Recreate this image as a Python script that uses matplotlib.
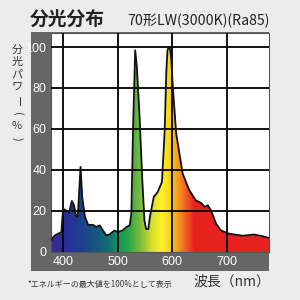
import matplotlib.pyplot as plt
import numpy as np
from matplotlib.colors import LinearSegmentedColormap
from matplotlib.patches import Rectangle

plt.rcParams['font.family'] = ['Noto Sans CJK JP', 'DejaVu Sans']

# spectrum (nm, % of max)
wavelength = [377, 385, 397, 400, 406, 411, 416, 420, 424, 427, 432, 435, 440,
              446, 455, 461, 467, 473, 479, 485, 494, 500, 509, 516, 522, 525,
              528, 532, 535, 540, 545, 549, 552, 556, 559, 566, 573, 581, 586,
              589, 591, 593, 596, 598, 601, 607, 619, 631, 643, 653, 659, 665,
              671, 680, 689, 704, 729, 750, 765, 776]
power = [5.4, 7.9, 9.5, 21, 20, 19, 24.7, 22.6, 17, 17, 41.4, 26.7, 17,
         13, 13, 12, 12.8, 10.3, 7.9, 8.3, 10.3, 9.5, 10.3, 12, 12.8, 18.5,
         59, 98.4, 90.5, 66, 35, 15, 11, 11, 17, 26.7, 29, 34, 59,
         88, 98, 100, 99, 94, 80, 57.8, 38, 30, 25, 23.7, 21.8, 22.6,
         20, 13.6, 10.3, 8.7, 7.7, 8.3, 7.5, 6.7]

x_ticks = [400, 500, 600, 700]
y_ticks = [0, 20, 40, 60, 80, 100]

# colour of the fill by wavelength
color_stops = [(377, '#3b2a90'), (400, '#2b2b9c'), (430, '#1d3f8f'),
               (460, '#17587f'), (480, '#136a78'), (500, '#12965a'),
               (520, '#2ca848'), (540, '#7dbc3c'), (560, '#cfdc2c'),
               (580, '#fff12a'), (595, '#fbd21c'), (610, '#f59a1e'),
               (625, '#ee5a22'), (640, '#e8211f'), (776, '#e8211f')]

xmin, xmax, ymin, ymax = 377, 776, 0, 107

fig = plt.figure(figsize=(3, 3), dpi=100)
fig.patch.set_facecolor('#ececec')

# dark frame behind the plot
fig.patches.append(Rectangle((31 / 300, 1 - 271 / 300), 238 / 300, 239 / 300,
                             transform=fig.transFigure, facecolor='#666666',
                             edgecolor='none', zorder=-5))

ax = fig.add_axes([50.5 / 300, 1 - 251.5 / 300, 218 / 300, 218.8 / 300])
ax.set_facecolor('white')
ax.set_xlim(xmin, xmax)
ax.set_ylim(ymin, ymax)

span = xmax - xmin
cmap = LinearSegmentedColormap.from_list(
    'spec', [((w - xmin) / span, c) for w, c in color_stops])
grad = np.linspace(0, 1, 400).reshape(1, -1)
ax.imshow(grad, cmap=cmap, extent=[xmin, xmax, ymin, ymax],
          aspect='auto', origin='lower', zorder=1)
# white over everything above the curve
ax.fill_between(wavelength, power, ymax, color='white', lw=0, zorder=2)

# grid on top of the colours
for xv in x_ticks:
    ax.axvline(xv, color='black', lw=1.3, zorder=5)
for yv in y_ticks[1:]:
    ax.axhline(yv, color='black', lw=1.3, zorder=5)
ax.plot(wavelength, power, color='#111111', lw=1.3, zorder=6)

ax.set_xlim(xmin, xmax)
ax.set_ylim(ymin, ymax)
ax.set_xticks(x_ticks)
ax.set_yticks(y_ticks)
ax.tick_params(colors='white', labelsize=9, length=0, pad=3)
for lab in ax.get_xticklabels() + ax.get_yticklabels():
    lab.set_family(['Liberation Sans Narrow', 'Liberation Sans', 'DejaVu Sans'])
for s in ax.spines.values():
    s.set_color('#555555')
    s.set_linewidth(0.8)

fig.text(30 / 300, 1 - 19 / 300, '分光分布', fontsize=13.5, fontweight='bold',
         color='#222222', va='center', ha='left')
fig.text(270 / 300, 1 - 21 / 300, '70形LW(3000K)(Ra85)', fontsize=10.2,
         color='#222222', va='center', ha='right')

# vertical y label, one character at a time
ylab = ['分', '光', 'パ', 'ワ', 'ー', '(', '%', ')']
ylab_y = [50, 62, 75, 88, 102, 114, 126, 139]
ylab_rot = [0, 0, 0, 0, -90, -90, 0, -90]
for ch, yy, rot in zip(ylab, ylab_y, ylab_rot):
    fig.text(17 / 300, 1 - yy / 300, ch, fontsize=8, color='#333333',
             ha='center', va='center', rotation=rot)

fig.text(270 / 300, 1 - 282 / 300, '波長（nm）', fontsize=10, color='#333333',
         ha='right', va='center')
fig.text(27 / 300, 1 - 285 / 300, '*エネルギーの最大値を100%として表示',
         fontsize=5.8, color='#333333', ha='left', va='center')

fig.savefig('out.png', dpi=100, facecolor=fig.get_facecolor())
